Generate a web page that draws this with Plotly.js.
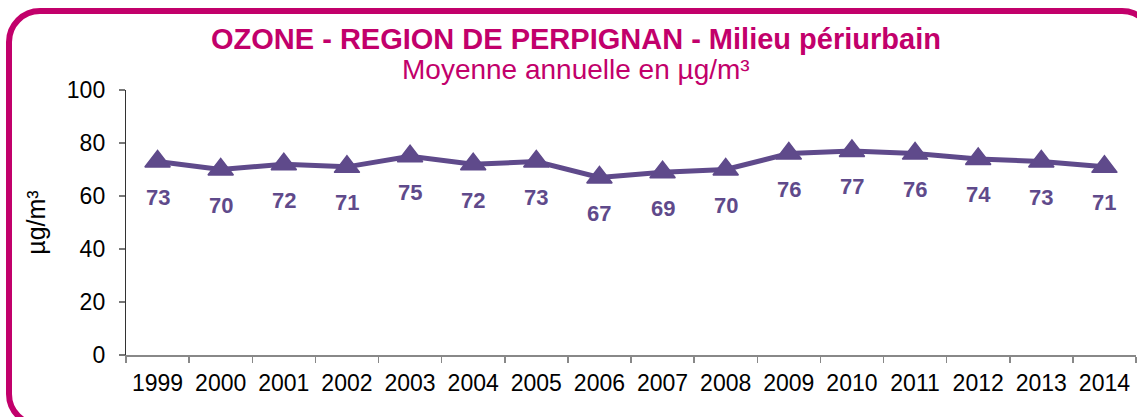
<!DOCTYPE html>
<html>
<head>
<meta charset="utf-8">
<script src="https://cdn.plot.ly/plotly-3.0.1.min.js"></script>
<style>
html,body{margin:0;padding:0;width:1137px;height:417px;overflow:hidden;background:#fff;}
#chart{position:absolute;left:0;top:0;width:1137px;height:417px;}
#frame{position:absolute;left:6px;top:8px;width:1150px;height:420px;border:6px solid #c2006b;border-radius:34px;pointer-events:none;box-sizing:border-box;}
</style>
</head>
<body>
<div id="chart"></div>
<div id="frame"></div>
<script>
var years = ["1999","2000","2001","2002","2003","2004","2005","2006","2007","2008","2009","2010","2011","2012","2013","2014"];
var ozone = [73,70,72,71,75,72,73,67,69,70,76,77,76,74,73,71];
var titleText = "OZONE - REGION DE PERPIGNAN - Milieu périurbain";
var subtitleText = "Moyenne annuelle en µg/m³";
var yTitle = "µg/m³";

var purple = "#5f4a8b";
var magenta = "#c2006b";
var font = "Arial, 'Liberation Sans', sans-serif";

var trace = {
  x: years,
  y: ozone,
  type: "scatter",
  mode: "lines+markers",
  line: {color: purple, width: 5},
  marker: {symbol: "triangle-up", size: 22, color: purple, line: {color: purple, width: 1.5}},
  hoverinfo: "skip"
};

var annotations = [];
for (var i = 0; i < years.length; i++) {
  annotations.push({x: i, y: ozone[i], xref: "x", yref: "y", text: "<b>" + ozone[i] + "</b>", showarrow: false,
    xanchor: "center", yanchor: "middle", yshift: -36,
    font: {family: font, size: 22, color: purple}});
}
annotations.push({xref: "paper", yref: "paper", x: 0.4455, y: 1, yanchor: "bottom", xanchor: "center", yshift: 33,
  text: "<b>" + titleText + "</b>", showarrow: false, font: {family: font, size: 29, color: magenta}});
annotations.push({xref: "paper", yref: "paper", x: 0.4455, y: 1, yanchor: "bottom", xanchor: "center", yshift: 3,
  text: subtitleText, showarrow: false, font: {family: font, size: 28, color: magenta}});

var layout = {
  width: 1137, height: 417,
  margin: {l: 126, r: 1, t: 90, b: 62},
  paper_bgcolor: "rgba(0,0,0,0)",
  plot_bgcolor: "rgba(0,0,0,0)",
  showlegend: false,
  font: {family: font, color: "#000"},
  xaxis: {
    type: "category",
    range: [-0.5, 15.5],
    showline: true, linecolor: "#888", linewidth: 1.5,
    ticks: "outside", tickson: "boundaries", ticklen: 6, tickcolor: "#888", tickwidth: 1.5,
    showgrid: false, zeroline: false,
    tickfont: {family: font, size: 23, color: "#000"},
    ticklabelstandoff: 7
  },
  yaxis: {
    range: [0, 100], dtick: 20,
    showline: true, linecolor: "#333", linewidth: 1.2,
    ticks: "outside", ticklen: 6, tickcolor: "#777", tickwidth: 1.2,
    showgrid: false, zeroline: false,
    tickfont: {family: font, size: 23, color: "#000"},
    ticklabelstandoff: 9,
    title: {text: yTitle, font: {family: font, size: 25, color: "#000"}, standoff: 14}
  },
  annotations: annotations
};

Plotly.newPlot("chart", [trace], layout, {staticPlot: true, displayModeBar: false});
</script>
</body>
</html>
